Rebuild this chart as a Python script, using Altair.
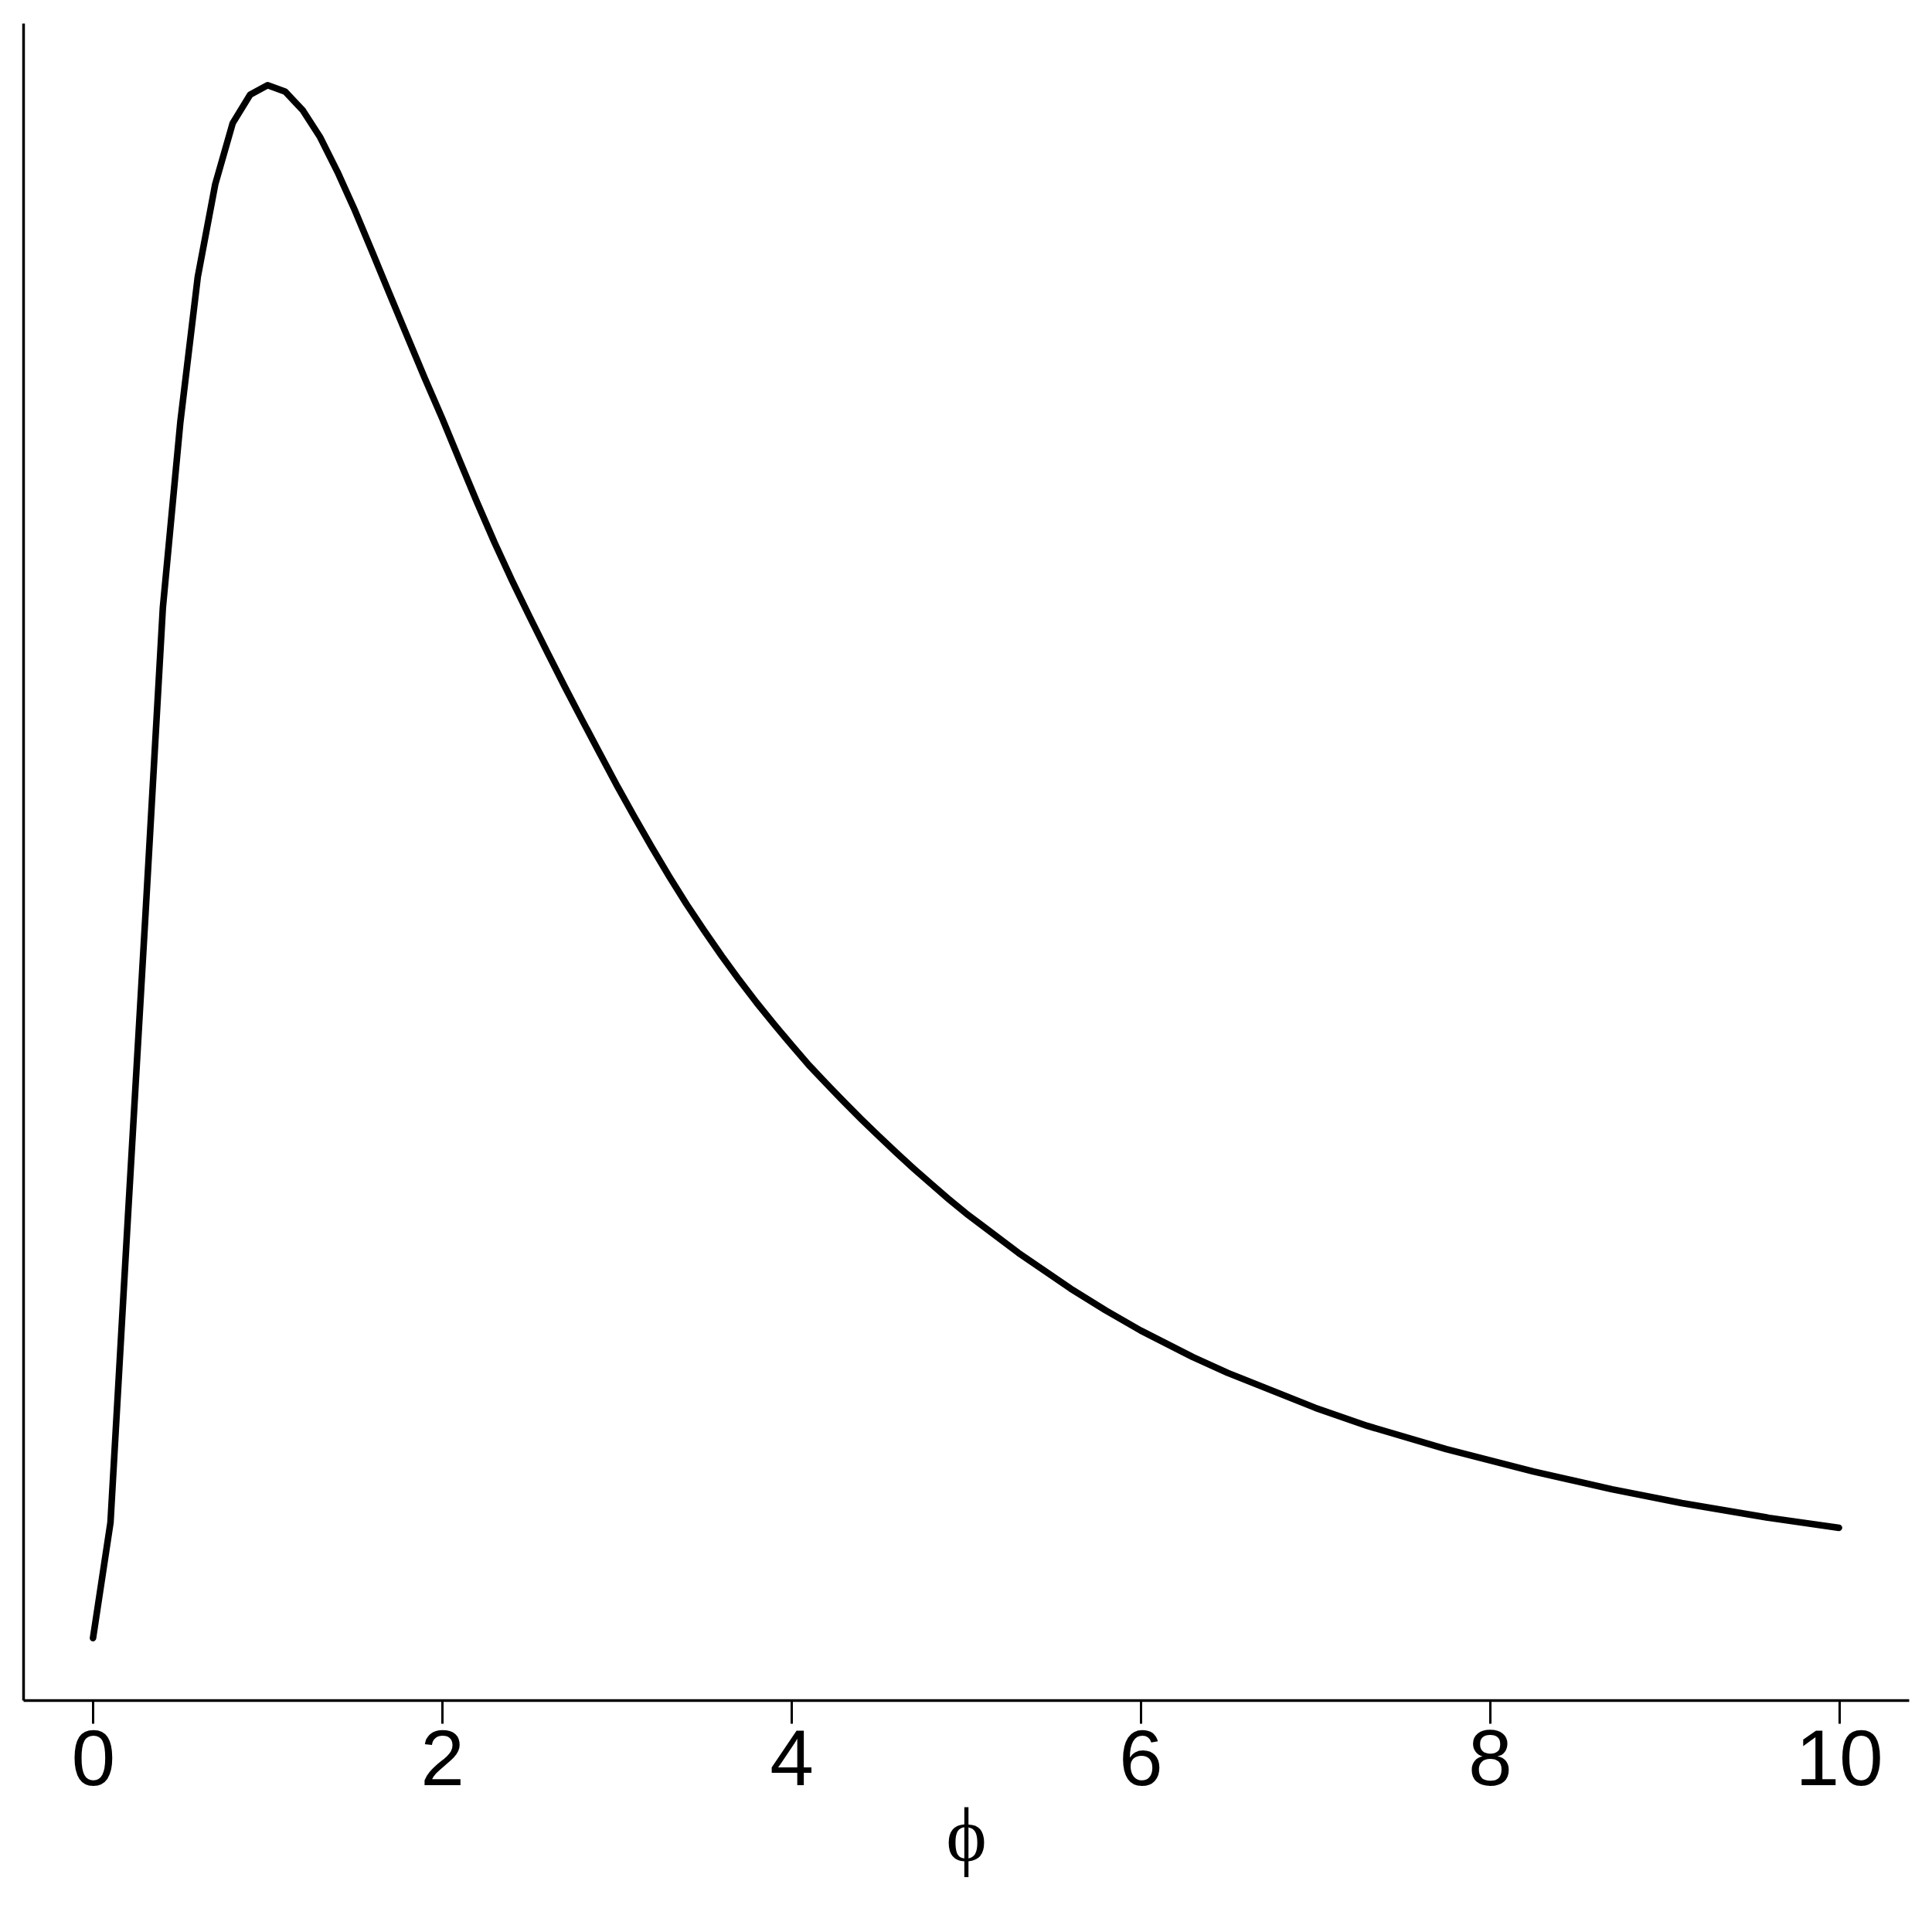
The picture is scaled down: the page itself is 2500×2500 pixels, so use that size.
import altair as alt
import pandas as pd

# phi values (x) and curve heights (arbitrary density units)
phi = [0.0, 0.1, 0.2, 0.3, 0.4, 0.5, 0.6, 0.7, 0.8, 0.9,
       1.0, 1.1, 1.2, 1.3, 1.4, 1.5, 1.6, 1.7, 1.8, 1.9,
       2.0, 2.1, 2.2, 2.3, 2.4, 2.5, 2.6, 2.7, 2.8, 2.9,
       3.0, 3.1, 3.2, 3.3, 3.4, 3.5, 3.6, 3.7, 3.8, 3.9,
       4.0, 4.1, 4.2, 4.3, 4.4, 4.5, 4.6, 4.7, 4.8, 4.9,
       5.0, 5.3, 5.6, 5.8, 6.0, 6.3, 6.5, 7.0, 7.3, 7.75,
       8.25, 8.7, 9.1, 9.6, 10.0]
density = [0.0000, 0.0744, 0.2715, 0.4651, 0.6636, 0.7830, 0.8766, 0.9363, 0.9756, 0.9940,
           1.0000, 0.9960, 0.9841, 0.9667, 0.9443, 0.9194, 0.8925, 0.8652, 0.8383, 0.8114,
           0.7855, 0.7582, 0.7313, 0.7054, 0.6810, 0.6579, 0.6353, 0.6131, 0.5915, 0.5703,
           0.5492, 0.5290, 0.5094, 0.4905, 0.4725, 0.4556, 0.4394, 0.4240, 0.4093, 0.3954,
           0.3820, 0.3690, 0.3571, 0.3455, 0.3342, 0.3233, 0.3127, 0.3024, 0.2925, 0.2828,
           0.2735, 0.2481, 0.2250, 0.2110, 0.1981, 0.1809, 0.1707, 0.1483, 0.1366, 0.1217,
           0.1073, 0.0958, 0.0869, 0.0774, 0.0710]
x_ticks = [0, 2, 4, 6, 8, 10]

df = pd.DataFrame({"phi": phi, "density": density})

xmin, xmax = min(phi), max(phi)
xpad = 0.04 * (xmax - xmin)
ymin, ymax = min(density), max(density)
ypad = 0.04 * (ymax - ymin)

W, H = 2440, 2170

chart = alt.Chart(df).mark_line(
    color="black", strokeWidth=8.5, strokeCap="round", strokeJoin="round"
).encode(
    x=alt.X(
        "phi:Q",
        scale=alt.Scale(domain=[xmin - xpad, xmax + xpad], nice=False, zero=False),
        axis=alt.Axis(
            title="ϕ",
            values=x_ticks,
            format="d",
            grid=False,
            tickSize=30,
            tickWidth=3,
            tickColor="black",
            domainColor="black",
            domainWidth=3.5,
            labelFont="Liberation Sans",
            labelFontSize=102,
            labelColor="black",
            labelBaseline="alphabetic",
            labelPadding=79,
            labelFlush=False,
            labelOverlap=False,
            titleFont="Liberation Serif",
            titleFontSize=100,
            titleFontWeight="normal",
            titleColor="black",
            titleBaseline="alphabetic",
            titleX=W / 2,
            titleY=207,
        ),
    ),
    y=alt.Y(
        "density:Q",
        scale=alt.Scale(domain=[ymin - ypad, ymax + ypad], nice=False, zero=False),
        axis=alt.Axis(
            title=None, labels=False, ticks=False, grid=False,
            domainColor="black", domainWidth=3.5,
        ),
    ),
).properties(
    width=W,
    height=H,
    autosize=alt.AutoSizeParams(type="none"),
    padding={"left": 22, "top": 22, "right": 20, "bottom": 290},
).configure_view(stroke=None)

chart.save("out.html", embed_options={"renderer": "svg", "actions": False})
